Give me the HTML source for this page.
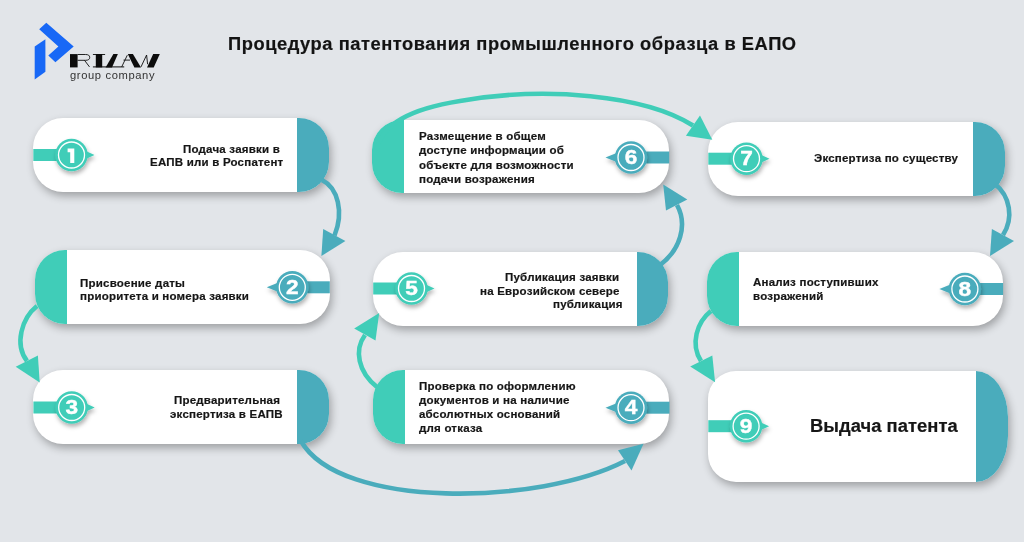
<!DOCTYPE html>
<html><head><meta charset="utf-8"><style>
html,body{margin:0;padding:0;}
body{width:1024px;height:542px;overflow:hidden;background:#e2e5e9;position:relative;font-family:"Liberation Sans",sans-serif;}
.card{position:absolute;background:#fff;box-shadow:2px 4px 9px rgba(0,0,0,0.30);overflow:hidden;}
.cap{position:absolute;top:0;bottom:0;}
.t{position:absolute;white-space:pre;font-weight:bold;color:#161616;line-height:1;will-change:transform;-webkit-text-stroke:0.2px currentColor;}
svg{position:absolute;left:0;top:0;}
.num{font-family:"Liberation Sans",sans-serif;font-weight:bold;}
</style></head><body>

<svg width="1024" height="542" viewBox="0 0 1024 542" style="z-index:1">
<polygon fill="#1868f6" points="46.3,22.7 73.7,46.4 55.4,62.3 48.3,55.6 58.4,46.4 39.2,29.2"/>
<polygon fill="#1868f6" points="34.7,46.4 45.4,39.3 45.4,71.8 34.7,79.5"/>
<g fill="#0c0c0c" stroke="none">
<rect x="70" y="54.1" width="7.6" height="13.3"/>
<rect x="92.9" y="54" width="12.2" height="0.9"/>
<rect x="95.8" y="54" width="6.4" height="13.4"/>
<rect x="92.9" y="66.4" width="31.3" height="1"/>
<polygon points="105.6,67.4 112,67.4 117.9,54.1 113.4,54.1"/>
<polygon points="127.8,54.1 132.9,54.1 141,67.4 134.4,67.4"/>
<polygon points="147,67.4 153.7,67.4 159.8,54.1 153.2,54.1"/>
</g>
<g fill="none" stroke="#0c0c0c" stroke-width="0.9">
<path d="M77.6,54.5 H85.6 Q89.7,54.5 89.7,57.4 Q89.7,60.3 85.6,60.3 H77.6 M84.5,60.3 L89.5,66.9"/>
<path d="M121.7,66.9 L127.3,55.2 M123.5,60.1 H130"/>
<path d="M141,66.9 L146.6,55 L147.6,64.2"/>
</g>
</svg>
<div class="t" style="left:69.5px;top:70px;font-weight:normal;font-size:11.2px;letter-spacing:0.62px;color:#333;-webkit-text-stroke:0;z-index:2">group company</div>
<div class="t" style="left:228px;top:34.5px;font-size:18.3px;letter-spacing:0.56px;color:#131313;z-index:2">Процедура патентования промышленного образца в ЕАПО</div>

<div class="card" style="left:33.3px;top:118px;width:295.7px;height:73.7px;border-radius:30px;z-index:3"><div class="cap" style="right:0;width:31.8px;background:#4aacbc;"></div></div>
<div class="card" style="left:35px;top:250px;width:294.8px;height:73.8px;border-radius:30px;z-index:3"><div class="cap" style="left:0;width:31.8px;background:#40cdb8;"></div></div>
<div class="card" style="left:33.4px;top:370px;width:295.6px;height:74.0px;border-radius:30px;z-index:3"><div class="cap" style="right:0;width:31.8px;background:#4aacbc;"></div></div>
<div class="card" style="left:373.2px;top:370px;width:296.3px;height:73.8px;border-radius:30px;z-index:3"><div class="cap" style="left:0;width:31.8px;background:#40cdb8;"></div></div>
<div class="card" style="left:373.2px;top:252.2px;width:295.3px;height:73.8px;border-radius:30px;z-index:3"><div class="cap" style="right:0;width:31.8px;background:#4aacbc;"></div></div>
<div class="card" style="left:372.3px;top:119.7px;width:296.9px;height:73.7px;border-radius:30px;z-index:3"><div class="cap" style="left:0;width:31.8px;background:#40cdb8;"></div></div>
<div class="card" style="left:708.3px;top:121.5px;width:296.4px;height:74.3px;border-radius:30px;z-index:3"><div class="cap" style="right:0;width:31.8px;background:#4aacbc;"></div></div>
<div class="card" style="left:707px;top:252px;width:296.1px;height:73.7px;border-radius:30px;z-index:3"><div class="cap" style="left:0;width:31.8px;background:#40cdb8;"></div></div>
<div class="card" style="left:708.3px;top:370.5px;width:299.5px;height:111.5px;border-radius:28px 32px 32px 28px / 28px 46px 46px 28px;z-index:3"><div class="cap" style="right:0;width:31.8px;background:#4aacbc;"></div></div>
<div class="t" style="right:740.79px;top:143.67px;font-size:11.53px;letter-spacing:0.21px;z-index:5">Подача заявки в </div>
<div class="t" style="right:740.79px;top:157.37px;font-size:11.53px;letter-spacing:0.21px;z-index:5">ЕАПВ или в Роспатент</div>
<div class="t" style="left:80.30px;top:277.67px;font-size:11.53px;letter-spacing:0.21px;z-index:5">Присвоение даты</div>
<div class="t" style="left:80.30px;top:291.17px;font-size:11.53px;letter-spacing:0.21px;z-index:5">приоритета и номера заявки</div>
<div class="t" style="right:740.79px;top:395.07px;font-size:11.53px;letter-spacing:0.21px;z-index:5">Предварительная </div>
<div class="t" style="right:740.79px;top:409.47px;font-size:11.53px;letter-spacing:0.21px;z-index:5">экспертиза в ЕАПВ</div>
<div class="t" style="left:419.10px;top:380.97px;font-size:11.53px;letter-spacing:0.21px;z-index:5">Проверка по оформлению</div>
<div class="t" style="left:419.10px;top:394.97px;font-size:11.53px;letter-spacing:0.21px;z-index:5">документов и на наличие</div>
<div class="t" style="left:419.10px;top:409.07px;font-size:11.53px;letter-spacing:0.21px;z-index:5">абсолютных оснований</div>
<div class="t" style="left:419.10px;top:423.07px;font-size:11.53px;letter-spacing:0.21px;z-index:5">для отказа</div>
<div class="t" style="right:400.79px;top:272.37px;font-size:11.53px;letter-spacing:0.21px;z-index:5">Публикация заявки </div>
<div class="t" style="right:400.79px;top:286.47px;font-size:11.53px;letter-spacing:0.21px;z-index:5">на Еврозийском севере </div>
<div class="t" style="right:400.79px;top:299.47px;font-size:11.53px;letter-spacing:0.21px;z-index:5">публикация</div>
<div class="t" style="left:419.10px;top:131.47px;font-size:11.53px;letter-spacing:0.21px;z-index:5">Размещение в общем</div>
<div class="t" style="left:419.10px;top:145.47px;font-size:11.53px;letter-spacing:0.21px;z-index:5">доступе информации об</div>
<div class="t" style="left:419.10px;top:160.07px;font-size:11.53px;letter-spacing:0.21px;z-index:5">объекте для возможности</div>
<div class="t" style="left:419.10px;top:174.17px;font-size:11.53px;letter-spacing:0.21px;z-index:5">подачи возражения</div>
<div class="t" style="right:65.79px;top:153.37px;font-size:11.53px;letter-spacing:0.21px;z-index:5">Экспертиза по существу</div>
<div class="t" style="left:752.90px;top:277.37px;font-size:11.53px;letter-spacing:0.21px;z-index:5">Анализ поступивших</div>
<div class="t" style="left:752.90px;top:291.37px;font-size:11.53px;letter-spacing:0.21px;z-index:5">возражений</div>
<div class="t" style="right:66.55px;top:416.69px;font-size:18.35px;letter-spacing:0.05px;z-index:5">Выдача патента</div>
<svg width="1024" height="542" viewBox="0 0 1024 542" style="z-index:4">
<defs><filter id="sh" x="-50%" y="-50%" width="200%" height="200%"><feDropShadow dx="1" dy="3" stdDeviation="2" flood-color="#000" flood-opacity="0.3"/></filter></defs>
<rect x="33.3" y="149.0" width="38.2" height="12" fill="#40cdb8"/>
<g filter="url(#sh)"><circle cx="71.5" cy="155" r="16.2" fill="#40cdb8"/><polygon points="85.2,150.8 94.5,155.0 85.2,159.2" fill="#40cdb8"/></g>
<circle cx="71.5" cy="155" r="13.0" fill="none" stroke="#fff" stroke-width="1.3"/>
<polygon fill="#fff" points="67.6,148.6 74.3,148.6 74.3,163 70.2,163 70.2,152.2 67.6,152.2"/>
<rect x="292.3" y="281.3" width="37.5" height="12" fill="#4aacbc"/>
<g filter="url(#sh)"><circle cx="292.3" cy="287.3" r="16.2" fill="#4aacbc"/><polygon points="279.1,282.3 266.8,287.3 279.1,292.3" fill="#4aacbc"/></g>
<circle cx="292.3" cy="287.3" r="13.0" fill="none" stroke="#fff" stroke-width="1.3"/>
<text class="num" transform="translate(292.3,293.9) scale(1.08,1)" x="0" y="0" text-anchor="middle" font-size="21" fill="#fff" stroke="#fff" stroke-width="0.4">2</text>
<rect x="33.4" y="401.5" width="38.3" height="12" fill="#40cdb8"/>
<g filter="url(#sh)"><circle cx="71.7" cy="407.5" r="16.2" fill="#40cdb8"/><polygon points="85.4,403.3 94.7,407.5 85.4,411.7" fill="#40cdb8"/></g>
<circle cx="71.7" cy="407.5" r="13.0" fill="none" stroke="#fff" stroke-width="1.3"/>
<text class="num" transform="translate(71.7,414.1) scale(1.08,1)" x="0" y="0" text-anchor="middle" font-size="21" fill="#fff" stroke="#fff" stroke-width="0.4">3</text>
<rect x="631.0" y="401.7" width="38.5" height="12" fill="#4aacbc"/>
<g filter="url(#sh)"><circle cx="631" cy="407.7" r="16.2" fill="#4aacbc"/><polygon points="617.8,402.7 605.5,407.7 617.8,412.7" fill="#4aacbc"/></g>
<circle cx="631" cy="407.7" r="13.0" fill="none" stroke="#fff" stroke-width="1.3"/>
<text class="num" transform="translate(631,414.3) scale(1.08,1)" x="0" y="0" text-anchor="middle" font-size="21" fill="#fff" stroke="#fff" stroke-width="0.4">4</text>
<rect x="373.2" y="282.5" width="38.3" height="12" fill="#40cdb8"/>
<g filter="url(#sh)"><circle cx="411.5" cy="288.5" r="16.2" fill="#40cdb8"/><polygon points="425.2,284.3 434.5,288.5 425.2,292.7" fill="#40cdb8"/></g>
<circle cx="411.5" cy="288.5" r="13.0" fill="none" stroke="#fff" stroke-width="1.3"/>
<text class="num" transform="translate(411.5,295.1) scale(1.08,1)" x="0" y="0" text-anchor="middle" font-size="21" fill="#fff" stroke="#fff" stroke-width="0.4">5</text>
<rect x="631.0" y="151.5" width="38.2" height="12" fill="#4aacbc"/>
<g filter="url(#sh)"><circle cx="631" cy="157.5" r="16.2" fill="#4aacbc"/><polygon points="617.8,152.5 605.5,157.5 617.8,162.5" fill="#4aacbc"/></g>
<circle cx="631" cy="157.5" r="13.0" fill="none" stroke="#fff" stroke-width="1.3"/>
<text class="num" transform="translate(631,164.1) scale(1.08,1)" x="0" y="0" text-anchor="middle" font-size="21" fill="#fff" stroke="#fff" stroke-width="0.4">6</text>
<rect x="708.3" y="152.7" width="38.2" height="12" fill="#40cdb8"/>
<g filter="url(#sh)"><circle cx="746.5" cy="158.7" r="16.2" fill="#40cdb8"/><polygon points="760.2,154.5 769.5,158.7 760.2,162.9" fill="#40cdb8"/></g>
<circle cx="746.5" cy="158.7" r="13.0" fill="none" stroke="#fff" stroke-width="1.3"/>
<text class="num" transform="translate(746.5,165.3) scale(1.08,1)" x="0" y="0" text-anchor="middle" font-size="21" fill="#fff" stroke="#fff" stroke-width="0.4">7</text>
<rect x="964.9" y="283.0" width="38.2" height="12" fill="#4aacbc"/>
<g filter="url(#sh)"><circle cx="964.9" cy="289" r="16.2" fill="#4aacbc"/><polygon points="951.7,284.0 939.4,289.0 951.7,294.0" fill="#4aacbc"/></g>
<circle cx="964.9" cy="289" r="13.0" fill="none" stroke="#fff" stroke-width="1.3"/>
<text class="num" transform="translate(964.9,295.6) scale(1.08,1)" x="0" y="0" text-anchor="middle" font-size="21" fill="#fff" stroke="#fff" stroke-width="0.4">8</text>
<rect x="708.3" y="420.2" width="37.8" height="12" fill="#40cdb8"/>
<g filter="url(#sh)"><circle cx="746.1" cy="426.2" r="16.2" fill="#40cdb8"/><polygon points="759.8,422.0 769.1,426.2 759.8,430.4" fill="#40cdb8"/></g>
<circle cx="746.1" cy="426.2" r="13.0" fill="none" stroke="#fff" stroke-width="1.3"/>
<text class="num" transform="translate(746.1,432.8) scale(1.08,1)" x="0" y="0" text-anchor="middle" font-size="21" fill="#fff" stroke="#fff" stroke-width="0.4">9</text>
</svg>
<svg width="1024" height="542" viewBox="0 0 1024 542" style="z-index:6">
<path d="M322,180 C338,188 344,212 334.5,235.5" fill="none" stroke="#4aacbc" stroke-width="4.6"/>
<polygon points="323.2,229 345.4,241 321.4,256" fill="#4aacbc"/>
<path d="M37,306 C22,318 14,344 27,361" fill="none" stroke="#40cdb8" stroke-width="4.6"/>
<polygon points="15.7,366.7 37.9,355.6 39.7,382.4" fill="#40cdb8"/>
<path d="M301,441 C340,510 540,505 625,461" fill="none" stroke="#4aacbc" stroke-width="4.6"/>
<polygon points="618,450.2 631.5,470.5 643.5,443.8" fill="#4aacbc"/>
<path d="M377,387 C358,372 354,350 365,335" fill="none" stroke="#40cdb8" stroke-width="4.6"/>
<polygon points="354.2,328.6 375.5,340.6 379.2,312.9" fill="#40cdb8"/>
<path d="M660,265 C680,250 688,225 677,205" fill="none" stroke="#4aacbc" stroke-width="4.6"/>
<polygon points="687.3,199.4 666,210.5 663.2,184.6" fill="#4aacbc"/>
<path d="M376.5,150 C382,124 410,109 460,101 C545,86 645,95 693,125.5" fill="none" stroke="#40cdb8" stroke-width="4.6"/>
<polygon points="685.9,135.7 700,115.4 712.3,139.7" fill="#40cdb8"/>
<path d="M995,184 C1010,196 1014,218 1003,235" fill="none" stroke="#4aacbc" stroke-width="4.6"/>
<polygon points="991.9,229.1 1014,241.1 990,255.9" fill="#4aacbc"/>
<path d="M711,311 C697,322 690,344 701,361" fill="none" stroke="#40cdb8" stroke-width="4.6"/>
<polygon points="690.2,366.5 712.3,355.4 715.1,382.2" fill="#40cdb8"/>
</svg>
</body></html>
